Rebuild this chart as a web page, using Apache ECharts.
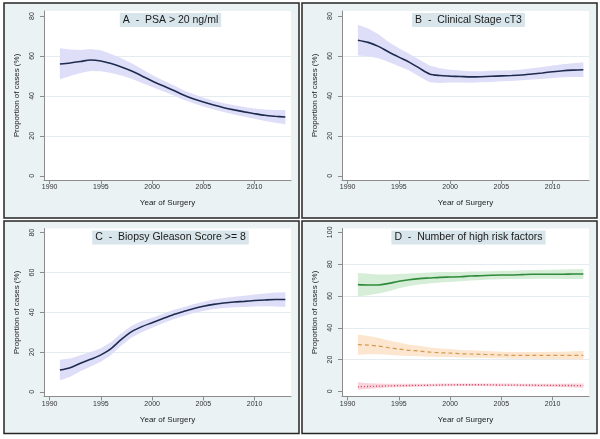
<!DOCTYPE html>
<html><head><meta charset="utf-8">
<script src="https://cdn.jsdelivr.net/npm/echarts@6/dist/echarts.min.js"></script>
<style>html,body{margin:0;padding:0;background:#fff}#c{width:600px;height:439px}</style>
</head><body><div id="c"></div>
<script>
const years = [1991,1992,1993,1994,1995,1996,1997,1998,1999,2000,2001,2002,2003,2004,2005,2006,2007,2008,2009,2010,2011,2012,2013];
const yearTicks = [1990,1995,2000,2005,2010];
const pctTicks80 = [0,20,40,60,80];
const pctTicks100 = [0,20,40,60,80,100];
const panelTitles = ['A  -  PSA > 20 ng/ml','B  -  Clinical Stage cT3','C  -  Biopsy Gleason Score >= 8','D  -  Number of high risk factors'];
const xTitle = 'Year of Surgery';
const yTitle = 'Proportion of cases (%)';

// A - PSA > 20
const psaEst = [56.0,56.5,57.2,58.0,57.5,56.2,54.5,52.5,50.0,47.5,45.2,43.0,40.6,38.6,36.9,35.4,34.1,33.0,32.0,31.1,30.3,29.8,29.4];
const psaLo  = [48.3,50.0,51.5,52.5,52.3,51.5,50.2,48.6,46.5,44.5,42.4,40.4,38.2,36.3,34.7,33.2,31.9,30.7,29.6,28.5,27.4,26.6,25.8];
const psaHi  = [63.8,63.2,63.0,63.5,62.8,61.0,58.8,56.4,53.5,50.5,48.0,45.6,43.0,40.9,39.1,37.6,36.3,35.3,34.4,33.7,33.2,33.0,33.0];
// B - cT3
const ct3Est = [67.9,66.8,64.8,62.0,59.4,56.9,53.9,51.0,50.2,49.9,49.7,49.5,49.6,49.8,50.0,50.2,50.5,51.0,51.5,52.1,52.6,52.9,53.1];
const ct3Lo  = [60.2,59.8,58.8,57.0,54.9,52.7,49.7,46.8,46.5,46.7,46.7,46.6,46.8,47.0,47.3,47.5,47.8,48.2,48.5,49.0,49.3,49.4,49.4];
const ct3Hi  = [75.6,73.8,70.8,67.0,63.9,61.1,58.1,55.2,53.9,53.1,52.7,52.4,52.4,52.6,52.7,52.9,53.2,53.8,54.5,55.2,55.9,56.4,56.8];
// C - Gleason >= 8
const glsEst = [11.0,12.2,14.4,16.4,18.6,21.8,26.4,30.3,32.8,34.8,36.8,38.7,40.3,41.8,43.0,44.0,44.7,45.2,45.5,45.9,46.2,46.4,46.4];
const glsLo  = [5.8,7.6,10.4,12.8,15.2,18.5,23.3,27.3,30.0,32.3,34.4,36.4,38.0,39.5,40.7,41.6,42.2,42.6,42.7,42.9,43.0,42.9,42.7];
const glsHi  = [16.2,16.8,18.4,20.0,22.0,25.1,29.5,33.3,35.6,37.3,39.2,41.0,42.6,44.1,45.3,46.4,47.2,47.8,48.3,48.9,49.4,49.9,50.1];
// D - number of high risk factors
const d0Est = [67.1,66.9,66.9,67.9,69.2,70.2,70.9,71.3,71.7,71.9,72.1,72.5,72.7,73.0,73.2,73.2,73.4,73.6,73.6,73.6,73.6,73.8,73.8];
const d0Lo  = [59.7,60.5,61.5,63.0,64.8,66.2,67.2,67.8,68.4,68.8,69.2,69.7,70.0,70.3,70.5,70.6,70.7,70.8,70.8,70.8,70.7,70.7,70.6];
const d0Hi  = [74.5,74.0,73.5,73.5,73.8,74.1,74.5,74.8,75.0,75.1,75.1,75.3,75.4,75.6,75.8,75.9,76.1,76.3,76.4,76.5,76.6,76.8,76.9];
const d1Est = [29.4,29.1,28.5,27.5,26.6,25.8,25.4,24.7,24.3,24.1,23.7,23.5,23.3,23.1,22.9,22.7,22.6,22.6,22.6,22.6,22.6,22.6,22.6];
const d1Lo  = [23.0,23.3,23.3,23.0,22.5,22.2,22.1,21.8,21.6,21.6,21.3,21.2,21.1,20.9,20.8,20.6,20.5,20.5,20.4,20.3,20.2,20.1,19.9];
const d1Hi  = [35.7,34.9,33.7,32.0,30.7,29.4,28.7,27.6,27.0,26.6,26.1,25.8,25.5,25.3,25.0,24.8,24.7,24.7,24.8,24.9,25.0,25.2,25.4];
const d2Est = [2.9,3.1,3.3,3.5,3.6,3.7,3.8,3.9,4.0,4.1,4.2,4.2,4.2,4.1,4.0,4.0,3.9,3.9,3.8,3.8,3.7,3.7,3.6];
const d2Lo  = [1.0,1.5,2.0,2.4,2.6,2.8,3.0,3.1,3.2,3.3,3.4,3.4,3.4,3.3,3.2,3.2,3.1,3.0,2.9,2.8,2.7,2.5,2.3];
const d2Hi  = [5.7,5.2,4.9,4.8,4.8,4.8,4.8,4.8,4.9,5.0,5.0,5.0,5.0,5.0,4.9,4.9,4.8,4.8,4.8,4.8,4.8,4.9,5.0];

const FONT = '"Liberation Sans", Arial, sans-serif';
const AXIS_C = '#8c8c8c';
const GRID_C = '#e4ecef';
const NAVY = '#1e2b4f';
const LAV = '#dedef8';

const panels = [
  {left:44,  top:11,    width:247, height:169, ymin:-2.1, ymax:82.5, ticks:pctTicks80},
  {left:342, top:11,    width:247, height:169, ymin:-2.1, ymax:82.5, ticks:pctTicks80},
  {left:44,  top:228.5, width:247, height:168, ymin:-2.3, ymax:82.1, ticks:pctTicks80},
  {left:342, top:228.5, width:247, height:168, ymin:-3.2, ymax:102.4, ticks:pctTicks100}
];
const frames = [[4,3,295,215],[302,3,295,215],[4,221,295,212.5],[302,221,295,212.5]];

const pairs = arr => years.map((y,i)=>[y, arr[i]]);

// confidence band drawn as one polygon through the library's coordinate system
function band(gi, lo, hi, color){
  return {type:'custom', xAxisIndex:gi, yAxisIndex:gi, silent:true, z:1,
    data: years.map((y,i)=>[y, lo[i], hi[i]]),
    encode:{x:0, y:[1,2]},
    renderItem:(params, api)=>{
      if (params.dataIndex !== 0) return null;
      const upper = years.map((y,i)=>api.coord([y, hi[i]]));
      const lower = years.map((y,i)=>api.coord([y, lo[i]])).reverse();
      return {type:'polygon', shape:{points: upper.concat(lower)}, style:{fill:color}};
    }};
}
function line(gi, est, color, type, width){
  return {type:'line', xAxisIndex:gi, yAxisIndex:gi, data:pairs(est), symbol:'none', smooth:0.3,
    lineStyle:{color:color, width:width, type:type}, silent:true, z:3};
}

const option = {
  animation:false,
  backgroundColor:'#ffffff',
  textStyle:{fontFamily:FONT},
  graphic: frames.map(f=>({type:'rect', z:-100, shape:{x:f[0],y:f[1],width:f[2],height:f[3]},
    style:{fill:'#eaf2f3', stroke:'#262626', lineWidth:1.5}})),
  title: panels.map((p,i)=>({
    text:panelTitles[i], left:p.left+p.width/2, top:p.top+2, textAlign:'center',
    backgroundColor:'#d8e5eb', padding:[1,3,1,3],
    textStyle:{fontSize:10.5, fontWeight:'normal', color:'#1a1a1a', fontFamily:FONT, lineHeight:12}
  })),
  grid: panels.map(p=>({left:p.left, top:p.top, width:p.width, height:p.height, show:true,
    backgroundColor:'#ffffff', borderWidth:0, containLabel:false})),
  xAxis: panels.map((p,i)=>({gridIndex:i, type:'value', min:1989.45, max:2013.55,
    name:xTitle, nameLocation:'middle', nameGap:19,
    nameTextStyle:{fontSize:8, color:'#222', fontFamily:FONT},
    axisLine:{show:true, onZero:false, lineStyle:{color:AXIS_C, width:1}},
    axisTick:{show:true, length:4, customValues:yearTicks, lineStyle:{color:AXIS_C}},
    axisLabel:{customValues:yearTicks, fontSize:7, margin:4, color:'#333', fontFamily:FONT, formatter:v=>String(v)},
    splitLine:{show:false}})),
  yAxis: panels.map((p,i)=>({gridIndex:i, type:'value', min:p.ymin, max:p.ymax,
    name:yTitle, nameLocation:'middle', nameGap:23,
    nameTextStyle:{fontSize:8, color:'#222', fontFamily:FONT},
    axisLine:{show:true, onZero:false, lineStyle:{color:AXIS_C, width:1}},
    axisTick:{show:true, length:4, customValues:p.ticks, lineStyle:{color:AXIS_C}},
    axisLabel:{customValues:p.ticks, rotate:90, fontSize:7, margin:8, color:'#333', fontFamily:FONT, formatter:v=>String(v)},
    splitLine:{show:true, lineStyle:{width:1, color:p.ticks.map((t,k)=> (k===0||k===p.ticks.length-1)?'rgba(0,0,0,0)':GRID_C)}}})),
  series: [
    band(0, psaLo, psaHi, LAV), line(0, psaEst, NAVY, 'solid', 1.6),
    band(1, ct3Lo, ct3Hi, LAV), line(1, ct3Est, NAVY, 'solid', 1.6),
    band(2, glsLo, glsHi, LAV), line(2, glsEst, NAVY, 'solid', 1.6),
    band(3, d0Lo, d0Hi, '#d6eed8'), line(3, d0Est, '#2f8a3a', 'solid', 1.6),
    band(3, d1Lo, d1Hi, '#fce6cf'), line(3, d1Est, '#d49a52', [4,3], 1.2),
    band(3, d2Lo, d2Hi, '#f8d3dc'), line(3, d2Est, '#d0405c', [1,2], 1.3)
  ]
};
const chart = echarts.init(document.getElementById('c'), null, {renderer:'canvas'});
chart.setOption(option);
</script></body></html>
